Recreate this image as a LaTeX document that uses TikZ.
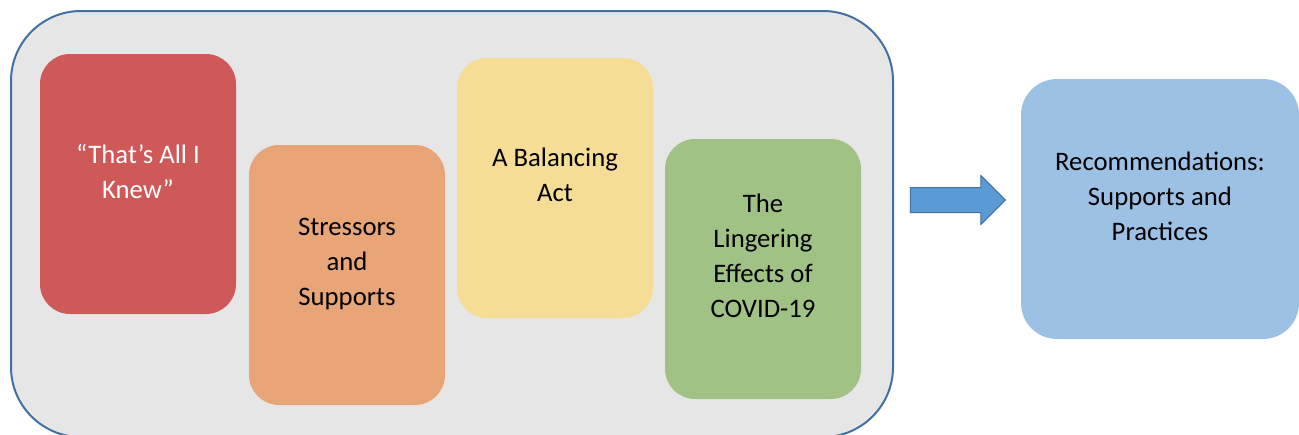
\documentclass[tikz,border=0pt]{standalone}
\usepackage{fontspec}
\setmainfont{Carlito}
\usetikzlibrary{
  shapes.arrows,
  positioning
}
\definecolor{framecolor}{RGB}{65, 113, 164}
\definecolor{framefill}{RGB}{230, 230, 230}
\definecolor{pastcolor}{RGB}{206, 89, 88}
\definecolor{stresscolor}{RGB}{232, 165, 119}
\definecolor{balancecolor}{RGB}{245, 221, 150}
\definecolor{covidcolor}{RGB}{160, 195, 133}
\definecolor{reccolor}{RGB}{156, 193, 229}
\definecolor{arrowfill}{RGB}{91, 155, 213}
\tikzset{
cardtext/.style={
  align=center,
  font=\fontsize{19}{25}\selectfont,
  text=black
},
card/.style={
  rounded corners=7.5mm,
  minimum width=49mm,
  minimum height=65mm,
  inner sep=0pt,
  outer sep=0pt,
  text depth=6.5mm,
  cardtext
},
themeframe/.style={
  draw=framecolor,
  fill=framefill,
  line width=0.5mm,
  rounded corners=17.5mm,
  minimum width=220.5mm,
  minimum height=106.5mm,
  outer sep=0pt
},
blockarrow/.style={
  single arrow,
  draw=framecolor,
  fill=arrowfill,
  line width=0.25mm,
  inner xsep=0pt,
  inner ysep=3mm,
  minimum width=12mm,
  minimum height=23.75mm,
  single arrow head extend=3mm
}
}

\begin{document}
\begin{tikzpicture}
  \useasboundingbox (0,0) rectangle (324.75mm,-108.5mm);

  % grey panel holding the four themes
  \node[themeframe] (frame) at (113mm,-56mm) {};

  \node[card, fill=pastcolor, text=white, anchor=north west] (past) at (10mm,-13.5mm) {``That’s All I\\Knew''};
  \node[card, fill=stresscolor, below right=22.75mm and 3.25mm of past.north east, anchor=north west] (stress) {Stressors\\and\\Supports};
  \node[card, fill=balancecolor, above right=21.75mm and 3mm of stress.north east, anchor=north west] (balance) {A Balancing\\Act};
  \node[card, fill=covidcolor, below right=20.25mm and 3mm of balance.north east, anchor=north west] (covid) {The\\Lingering\\Effects of\\COVID-19};

  \node[card, fill=reccolor, rounded corners=9mm, minimum width=69.5mm, below right=17mm and 32mm of frame.north east, anchor=north west] (rec) {Recommendations:\\Supports and\\Practices};

  \node[blockarrow, left=3.75mm of rec, yshift=2.25mm] (toward) {};
\end{tikzpicture}
\end{document}
